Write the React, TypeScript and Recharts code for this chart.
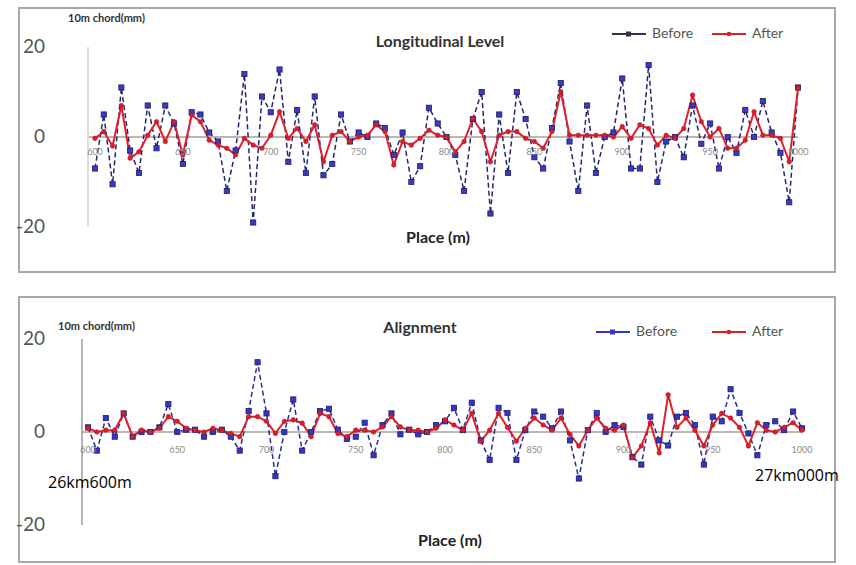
import React from "react";
import { LineChart, Line, XAxis, YAxis, ReferenceLine } from "recharts";

const places = [
  600, 605, 610, 615, 620, 625, 630, 635, 640, 645, 650, 655, 660, 665, 670, 675, 680, 685, 690, 695,
  700, 705, 710, 715, 720, 725, 730, 735, 740, 745, 750, 755, 760, 765, 770, 775, 780, 785, 790, 795,
  800, 805, 810, 815, 820, 825, 830, 835, 840, 845, 850, 855, 860, 865, 870, 875, 880, 885, 890, 895,
  900, 905, 910, 915, 920, 925, 930, 935, 940, 945, 950, 955, 960, 965, 970, 975, 980, 985, 990, 995,
  1000,
];

const xTicks = [600, 650, 700, 750, 800, 850, 900, 950, 1000];
const yTicks = [-20, 0, 20];

const levelBefore = [
  -7, 5, -10.5, 11, -3, -8, 7, -2.5, 7, 3, -6, 5.5, 5, 1, -1, -12, -3, 14, -19, 9,
  5.5, 15, -5.5, 6, -8, 9, -8.5, -6, 5, -1, 1, 0, 3, 2, -4, 1, -10, -6.5, 6.5, 3,
  0, -4, -12, 4, 10, -17, 5, -8, 10, 4, -4.5, -7, 2, 12, -1, -12, 7, -8, 0, 1,
  13, -7, -7, 16, -10, -1, 0, -4.5, 7, -1.5, 3, -7, 0, -3.5, 6, 0, 8, 1, -3.5, -14.5,
  11,
];

const levelAfter = [
  -0.3, 1.2, -2, 7, -4.7, -3.3, 0.4, 3.4, -1, 3.4, -4, 4.9, 3.4, -0.7, -1.8, -2.5, -4, -0.3, -1.8, -2.5,
  0.4, 5.6, -0.3, 1.9, -1, 2.7, -5.5, 0.4, 1.2, -1, 0, 0.4, 2.7, 1.2, -6.2, -1, -1.8, -0.3, 1.5, 0.4,
  0, -3.3, -1, 4.1, 1.2, -5.5, 0.4, 1.2, 1.2, -0.3, -1, -2.5, 1.2, 10.1, 0.4, 0.4, 0.4, 0.4, 0.4, 0,
  2.3, -0.3, 2.7, 1.9, -1.8, 0.4, -0.3, 1.9, 9.3, 3.4, 0, 1.9, -2.5, -2.5, -0.7, 5.6, 0.4, 0.4, -0.3, -5.5,
  10.8,
];

const alignBefore = [
  1, -4, 3, -1, 4, -1, 0, 0, 1, 6, 0, 0.5, 0.5, -1, 0, 0.5, -1, -4, 4.5, 15,
  4, -9.5, 0, 7, -4, 0, 4.5, 5, 0.5, -1.5, -1, 2, -5, 1.5, 4, -0.5, 0.5, -0.5, 0, 1.5,
  2.3, 5.2, 0.4, 6.3, -1.8, -6, 5.2, 4.1, -6, 0.4, 4.4, 3.3, 0.8, 4.4, -1.8, -10, 0.4, 4.1, 0, 1.5,
  1.1, -5.4, -7, 3.3, -1.8, -2.9, 3.3, 4.1, 1.5, -7, 3.3, 2.3, 9.2, 4.1, -0.3, -5, 1.5, 2.3, 0.4, 4.4,
  0.8,
];

const alignAfter = [
  0.8, 0, 0.4, 0.4, 4, -1, 0.4, 0, 0.8, 3.3, 2.3, 0.8, 0.4, 0, 0.8, 0.4, -0.3, -1, 3.3, 3.3,
  2.3, -0.3, 2.3, 2.6, 1.9, -1, 4, 3.3, -0.3, -1, 0.4, 0.4, 0, 1.1, 3.3, 1.1, 0.4, 0.4, 0, 0.8,
  2.6, 1.5, 0.4, 4, -2, 0.4, 4, 1, -2, 0.8, 3, 1.5, 0.4, 3, -0.5, -3, 0.4, 3, 0.8, 0.4,
  1.5, -5.5, -3, 2, -4.5, 8, 1, 3, 0.4, -3, 1.5, 4, 3, 1, -3, 2, 0.4, 0, 1, 2,
  0.4,
];

const levelData = places.map((p, i) => ({ place: p, before: levelBefore[i], after: levelAfter[i] }));
const alignData = places.map((p, i) => ({ place: p, before: alignBefore[i], after: alignAfter[i] }));

const LABEL_FONT = "Lato, 'Open Sans', sans-serif";

const beforeDot = (fill: string, stroke: string) => (p: any) => (
  <rect
    key={`b-${p.index}`}
    x={p.cx - 2.6}
    y={p.cy - 2.6}
    width={5.2}
    height={5.2}
    fill={fill}
    stroke={stroke}
    strokeWidth={0.8}
  />
);

const afterDot = (p: any) => (
  <circle key={`a-${p.index}`} cx={p.cx} cy={p.cy} r={2.3} fill="#d8202c" stroke="#b01020" strokeWidth={0.5} />
);

const makeXTick = (labelY: number) => (p: any) => (
  <text
    x={p.x}
    y={labelY}
    textAnchor="middle"
    fontSize={9}
    fill="#8a8a8a"
    fontFamily={LABEL_FONT}
  >
    {p.payload.value}
  </text>
);

const makeYTick = (labelX: number) => (p: any) => (
  <text
    x={labelX}
    y={p.y}
    dy={6}
    textAnchor="end"
    fontSize={19}
    fill="#555"
    fontFamily={LABEL_FONT}
  >
    {p.payload.value}
  </text>
);

const panelBox: React.CSSProperties = {
  position: "absolute",
  border: "2px solid #a8a8a8",
  boxSizing: "border-box",
  background: "#fff",
};

const txt = (extra: React.CSSProperties): React.CSSProperties => ({
  position: "absolute",
  fontFamily: LABEL_FONT,
  whiteSpace: "nowrap",
  lineHeight: 1,
  ...extra,
});

function LegendItem({ x, y, color, label, square }: any) {
  return (
    <>
      <svg style={{ position: "absolute", left: x, top: y - 5 }} width={36} height={10}>
        <line x1={0} y1={5} x2={34} y2={5} stroke={color} strokeWidth={2} />
        {square ? (
          <rect x={14} y={2.5} width={5} height={5} fill={color} />
        ) : (
          <circle cx={17} cy={5} r={2.3} fill={color} />
        )}
      </svg>
      <div style={txt({ left: x + 40, top: y - 8, fontSize: 14, color: "#555" })}>{label}</div>
    </>
  );
}

export default function App() {
  return (
    <div style={{ position: "absolute", left: 0, top: 0, width: 856, height: 565, background: "#fff" }}>
      {/* Panel 1 */}
      <div style={{ ...panelBox, left: 18, top: 7, width: 818, height: 266 }} />
      <div style={{ position: "absolute", left: 0, top: 8 }}>
        <LineChart
          width={836}
          height={264}
          data={levelData}
          margin={{ top: 39, right: 38, bottom: 15, left: 0 }}
        >
          <XAxis
            dataKey="place"
            type="number"
            domain={[600, 1000]}
            ticks={xTicks}
            padding={{ left: 7, right: 0 }}
            axisLine={false}
            tickLine={false}
            height={30}
            tick={makeXTick(147)}
            interval={0}
          />
          <YAxis
            type="number"
            domain={[-20, 20]}
            ticks={yTicks}
            width={88}
            axisLine={{ stroke: "#dcdcdc", strokeWidth: 2 }}
            tickLine={false}
            tick={makeYTick(45)}
          />
          <ReferenceLine y={0} stroke="#7a7060" strokeWidth={1} />
          <Line
            dataKey="before"
            stroke="#26266e"
            strokeWidth={1.5}
            strokeDasharray="5 3"
            dot={beforeDot("#3a3ac8", "#1e1e5a")}
            isAnimationActive={false}
          />
          <Line
            dataKey="after"
            stroke="#e0202c"
            strokeWidth={2}
            dot={afterDot}
            isAnimationActive={false}
          />
        </LineChart>
      </div>
      <div style={txt({ left: 68, top: 12, fontSize: 11, fontWeight: 700, color: "#333" })}>10m chord(mm)</div>
      <div style={txt({ left: 440, top: 33, fontSize: 16, fontWeight: 700, color: "#333", transform: "translateX(-50%)" })}>
        Longitudinal Level
      </div>
      <div style={txt({ left: 438, top: 229, fontSize: 16, fontWeight: 700, color: "#222", transform: "translateX(-50%)" })}>
        Place (m)
      </div>
      <LegendItem x={612} y={34} color="#333344" label="Before" square />
      <LegendItem x={712} y={34} color="#d8202c" label="After" />

      {/* Panel 2 */}
      <div style={{ ...panelBox, left: 18, top: 296, width: 818, height: 267 }} />
      <div style={{ position: "absolute", left: 0, top: 297 }}>
        <LineChart
          width={836}
          height={265}
          data={alignData}
          margin={{ top: 42, right: 34, bottom: 12, left: 0 }}
        >
          <XAxis
            dataKey="place"
            type="number"
            domain={[600, 1000]}
            ticks={xTicks}
            padding={{ left: 6, right: 0 }}
            axisLine={false}
            tickLine={false}
            height={25}
            tick={makeXTick(156)}
            interval={0}
          />
          <YAxis
            type="number"
            domain={[-20, 20]}
            ticks={yTicks}
            width={82}
            axisLine={{ stroke: "#9a9a9a", strokeWidth: 1.5 }}
            tickLine={false}
            tick={makeYTick(45)}
          />
          <ReferenceLine y={0} stroke="#7a7060" strokeWidth={1} />
          <Line
            dataKey="before"
            stroke="#2c2c90"
            strokeWidth={1.5}
            strokeDasharray="5 3"
            dot={beforeDot("#3535c8", "#20206a")}
            isAnimationActive={false}
          />
          <Line
            dataKey="after"
            stroke="#e0202c"
            strokeWidth={2}
            dot={afterDot}
            isAnimationActive={false}
          />
        </LineChart>
      </div>
      <div style={txt({ left: 58, top: 320, fontSize: 11, fontWeight: 700, color: "#333" })}>10m chord(mm)</div>
      <div style={txt({ left: 420, top: 319, fontSize: 16, fontWeight: 700, color: "#333", transform: "translateX(-50%)" })}>
        Alignment
      </div>
      <div style={txt({ left: 450, top: 532, fontSize: 16, fontWeight: 700, color: "#222", transform: "translateX(-50%)" })}>
        Place (m)
      </div>
      <LegendItem x={596} y={332} color="#3535c0" label="Before" square />
      <LegendItem x={712} y={332} color="#d8202c" label="After" />

      <div style={txt({ left: 48, top: 474, fontSize: 16, color: "#000", fontFamily: "'Open Sans', sans-serif" })}>26km600m</div>
      <div style={txt({ left: 755, top: 467, fontSize: 16, color: "#000", fontFamily: "'Open Sans', sans-serif" })}>27km000m</div>
    </div>
  );
}
